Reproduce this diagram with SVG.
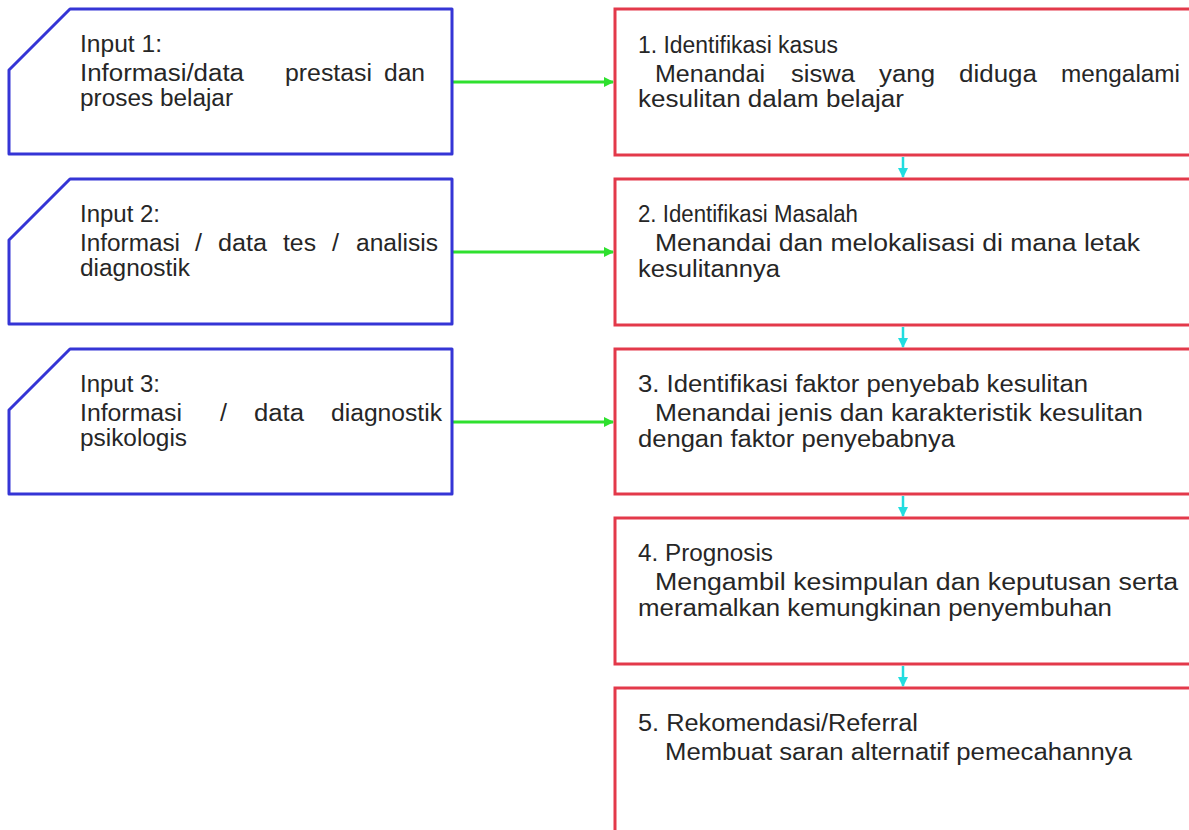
<svg xmlns="http://www.w3.org/2000/svg" width="1189" height="830" viewBox="0 0 1189 830">
<style>
.in{fill:#ffffff;stroke:#3535d6;stroke-width:3;stroke-linejoin:round}
.st{fill:#ffffff;stroke:#e3394a;stroke-width:3}
text{font-family:"Liberation Sans",Arial,sans-serif;font-size:23px;fill:#262626}
.g{stroke:#2ee02e;stroke-width:3;fill:none}
.c{stroke:#22dde0;stroke-width:2.5;fill:none}
</style>
<defs>
<marker id="ag" markerWidth="10" markerHeight="10" refX="9" refY="5" orient="auto" markerUnits="userSpaceOnUse"><path d="M0,0 L10,5 L0,10 Z" fill="#2ee02e"/></marker>
<marker id="ac" markerWidth="10" markerHeight="10" refX="9" refY="5" orient="auto" markerUnits="userSpaceOnUse"><path d="M0,0 L10,5 L0,10 Z" fill="#22dde0"/></marker>
</defs>
<rect width="1189" height="830" fill="#ffffff"/>
<g id="connectors">
<line class="g" x1="452" y1="82" x2="613" y2="82" marker-end="url(#ag)"/>
<line class="g" x1="452" y1="252" x2="613" y2="252" marker-end="url(#ag)"/>
<line class="g" x1="452" y1="422" x2="613" y2="422" marker-end="url(#ag)"/>
<line class="c" x1="903" y1="157" x2="903" y2="177" marker-end="url(#ac)"/>
<line class="c" x1="903" y1="327" x2="903" y2="347" marker-end="url(#ac)"/>
<line class="c" x1="903" y1="496" x2="903" y2="516" marker-end="url(#ac)"/>
<line class="c" x1="903" y1="666" x2="903" y2="686" marker-end="url(#ac)"/>
</g>
<g id="input1">
<path class="in" d="M70,9 H452 V154 H9 V70 Z"/>
<text x="80" y="52" textLength="82" lengthAdjust="spacingAndGlyphs">Input 1:</text>
<text x="80" y="81" textLength="164" lengthAdjust="spacingAndGlyphs">Informasi/data</text>
<text x="285" y="81" textLength="87" lengthAdjust="spacingAndGlyphs">prestasi</text>
<text x="384" y="81" textLength="41" lengthAdjust="spacingAndGlyphs">dan</text>
<text x="80" y="106" textLength="153" lengthAdjust="spacingAndGlyphs">proses belajar</text>
</g>
<g id="input2">
<path class="in" d="M70,179 H452 V324 H9 V240 Z"/>
<text x="80" y="222" textLength="80" lengthAdjust="spacingAndGlyphs">Input 2:</text>
<text x="80" y="251" textLength="100" lengthAdjust="spacingAndGlyphs">Informasi</text>
<text x="195" y="251" textLength="7" lengthAdjust="spacingAndGlyphs">/</text>
<text x="218" y="251" textLength="49" lengthAdjust="spacingAndGlyphs">data</text>
<text x="283" y="251" textLength="33" lengthAdjust="spacingAndGlyphs">tes</text>
<text x="332" y="251" textLength="7" lengthAdjust="spacingAndGlyphs">/</text>
<text x="356" y="251" textLength="82" lengthAdjust="spacingAndGlyphs">analisis</text>
<text x="80" y="276" textLength="110" lengthAdjust="spacingAndGlyphs">diagnostik</text>
</g>
<g id="input3">
<path class="in" d="M70,349 H452 V494 H9 V410 Z"/>
<text x="80" y="392" textLength="80" lengthAdjust="spacingAndGlyphs">Input 3:</text>
<text x="80" y="421" textLength="102" lengthAdjust="spacingAndGlyphs">Informasi</text>
<text x="220" y="421" textLength="7" lengthAdjust="spacingAndGlyphs">/</text>
<text x="254" y="421" textLength="50" lengthAdjust="spacingAndGlyphs">data</text>
<text x="331" y="421" textLength="111" lengthAdjust="spacingAndGlyphs">diagnostik</text>
<text x="80" y="446" textLength="107" lengthAdjust="spacingAndGlyphs">psikologis</text>
</g>
<g id="step1">
<rect class="st" x="615" y="9" width="590" height="146"/>
<text x="638" y="53" textLength="200" lengthAdjust="spacingAndGlyphs">1. Identifikasi kasus</text>
<text x="655" y="82" textLength="110" lengthAdjust="spacingAndGlyphs">Menandai</text>
<text x="791" y="82" textLength="64" lengthAdjust="spacingAndGlyphs">siswa</text>
<text x="879" y="82" textLength="56" lengthAdjust="spacingAndGlyphs">yang</text>
<text x="959" y="82" textLength="78" lengthAdjust="spacingAndGlyphs">diduga</text>
<text x="1061" y="82" textLength="119" lengthAdjust="spacingAndGlyphs">mengalami</text>
<text x="638" y="107" textLength="266" lengthAdjust="spacingAndGlyphs">kesulitan dalam belajar</text>
</g>
<g id="step2">
<rect class="st" x="615" y="179" width="590" height="146"/>
<text x="638" y="222" textLength="220" lengthAdjust="spacingAndGlyphs">2. Identifikasi Masalah</text>
<text x="655" y="251" textLength="485" lengthAdjust="spacingAndGlyphs">Menandai dan melokalisasi di mana letak</text>
<text x="638" y="277" textLength="142" lengthAdjust="spacingAndGlyphs">kesulitannya</text>
</g>
<g id="step3">
<rect class="st" x="615" y="349" width="590" height="145"/>
<text x="638" y="392" textLength="450" lengthAdjust="spacingAndGlyphs">3. Identifikasi faktor penyebab kesulitan</text>
<text x="655" y="421" textLength="488" lengthAdjust="spacingAndGlyphs">Menandai jenis dan karakteristik kesulitan</text>
<text x="638" y="447" textLength="317" lengthAdjust="spacingAndGlyphs">dengan faktor penyebabnya</text>
</g>
<g id="step4">
<rect class="st" x="615" y="518" width="590" height="146"/>
<text x="638" y="561" textLength="135" lengthAdjust="spacingAndGlyphs">4. Prognosis</text>
<text x="655" y="590" textLength="523" lengthAdjust="spacingAndGlyphs">Mengambil kesimpulan dan keputusan serta</text>
<text x="638" y="616" textLength="474" lengthAdjust="spacingAndGlyphs">meramalkan kemungkinan penyembuhan</text>
</g>
<g id="step5">
<rect class="st" x="615" y="688" width="590" height="160"/>
<text x="638" y="731" textLength="280" lengthAdjust="spacingAndGlyphs">5. Rekomendasi/Referral</text>
<text x="665" y="760" textLength="467" lengthAdjust="spacingAndGlyphs">Membuat saran alternatif pemecahannya</text>
</g>
</svg>
